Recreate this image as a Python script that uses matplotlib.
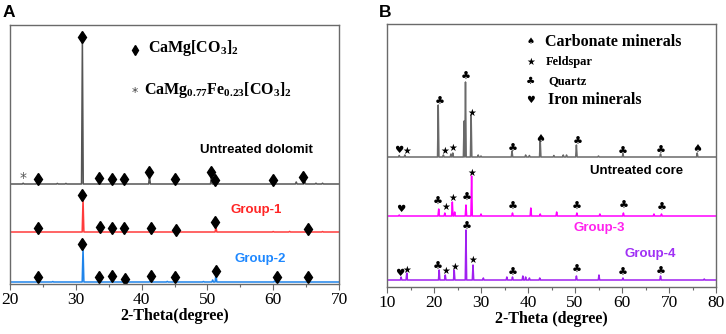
import matplotlib
matplotlib.use("Agg")
import matplotlib.pyplot as plt
from matplotlib.ticker import MultipleLocator

plt.rcParams['mathtext.fontset'] = 'custom'
plt.rcParams['mathtext.rm'] = 'Liberation Serif:bold'
plt.rcParams['mathtext.bf'] = 'Liberation Serif:bold'
plt.rcParams['mathtext.it'] = 'Liberation Serif:bold'
plt.rcParams['mathtext.default'] = 'bf'

# ---------------- Panel A data ----------------
a_untreated_pos = [22.0, 24.1, 27.2, 28.5, 31.0, 33.6, 35.4, 37.5, 41.2, 45.0, 50.6, 51.1, 59.9, 63.5, 64.8, 66.5, 67.5]
a_untreated_h   = [0.8, 1.0, 0.6, 0.6, 144, 1.5, 1.0, 1.0, 8, 1.0, 7, 3, 1.5, 2, 2.5, 0.8, 0.8]
a_g1_pos = [31.1, 33.8, 41.3, 45.3, 51.3, 60.0, 62.5, 65.4, 67.5]
a_g1_h   = [33, 0.6, 0.5, 0.5, 5, 0.5, 0.6, 0.8, 0.5]
a_g2_pos = [26.5, 31.1, 33.6, 35.6, 41.3, 43.9, 45.0, 49.4, 50.8, 51.3, 60.2, 65.4]
a_g2_h   = [0.5, 34, 0.7, 0.7, 1.0, 0.6, 0.7, 0.5, 2, 8, 1.0, 1.0]
a_offsets = [100, 52, 2]

a_untreated_mk_x = [24.2, 33.5, 35.5, 37.4, 41.2, 45.0, 50.5, 51.1, 60.0, 64.6, 31.0]
a_untreated_mk_y = [105, 106, 105, 105, 112, 105, 112, 104, 104, 107, 247]
a_g1_mk_x = [24.2, 31.0, 33.7, 35.5, 37.4, 41.4, 45.2, 51.2, 65.3]
a_g1_mk_y = [56, 89, 57, 56, 56, 56, 54, 62, 55]
a_g2_mk_x = [24.2, 31.0, 33.5, 35.5, 37.5, 41.4, 45.1, 51.3, 60.6, 65.3]
a_g2_mk_y = [7, 40, 7, 8, 5, 8, 7, 13, 7, 7]

# ---------------- Panel B data ----------------
b_core_pos = [12.6, 13.8, 20.9, 22.0, 23.6, 24.0, 26.4, 26.7, 27.9, 29.4, 30.0, 36.6, 39.5, 40.3, 42.6, 45.5, 47.5, 48.2, 50.3, 55.0, 60.2, 68.2, 76.0]
b_core_h   = [1.5, 2, 52, 2, 3, 4, 36, 75, 42, 2, 1, 6, 2, 1.5, 17, 1.5, 2, 2, 12, 1, 3, 3, 4]
b_g3_pos = [12.6, 21.0, 22.3, 23.9, 24.4, 26.8, 28.0, 30.0, 36.7, 40.6, 42.6, 46.1, 50.4, 55.3, 60.3, 66.8, 68.4]
b_g3_h   = [1, 7, 3, 14, 4, 11, 40, 2, 3, 8, 2, 4, 3, 2, 3, 2, 2]
b_g4_pos = [13.0, 14.2, 21.1, 22.4, 24.3, 26.8, 28.3, 30.5, 35.5, 36.7, 38.9, 39.5, 40.3, 42.5, 50.3, 55.1, 60.2, 68.2, 77.5]
b_g4_h   = [3, 7, 10, 5, 10, 50, 15, 2, 3, 3, 4, 3, 2, 2, 4, 5, 2, 4, 1]
b_offsets = [130, 71, 7]

b_core_mk_x = [12.5, 14.1, 21.2, 22.2, 24.0, 26.8, 28.1, 36.8, 42.7, 50.5, 60.2, 68.3, 76.0]
b_core_mk_y = [137, 136, 185, 136, 139, 210, 174, 138, 148, 145, 135, 136, 138]
b_core_mk_s = ['♥', '★', '♣', '★', '★', '♣', '★', '♣', '♠', '♣', '♣', '♣', '♠']
b_g3_mk_x = [13.0, 20.9, 22.5, 24.0, 27.0, 28.0, 36.8, 50.4, 60.4, 68.5]
b_g3_mk_y = [78, 85, 80, 89, 89, 114, 80, 80, 81, 79]
b_g3_mk_s = ['♥', '♣', '★', '★', '♣', '★', '♣', '♣', '♣', '♣']
b_g4_mk_x = [12.7, 14.3, 20.9, 22.6, 24.4, 27.0, 28.3, 36.8, 50.4, 60.2, 68.3]
b_g4_mk_y = [14, 17, 20, 16, 20, 60, 27, 14, 17, 14, 15]
b_g4_mk_s = ['♥', '★', '♣', '★', '★', '♣', '★', '♣', '♣', '♣', '♣']

b_legend_syms = ['♠', '★', '♣', '♥']
b_legend_txt = ['Carbonate minerals', 'Feldspar', 'Quartz', 'Iron minerals']


def pattern(pos, h, off, xlo, xhi, w):
    xs = [xlo]
    ys = [off]
    for p, v in sorted(zip(pos, h)):
        xs += [p - w, p, p + w]
        ys += [off, off + v, off]
    xs.append(xhi)
    ys.append(off)
    return xs, ys


fig = plt.figure(figsize=(7.26, 3.34), dpi=100)
W, H = 726, 334

spine_c = '#6a6a6a'
serif = 'Liberation Serif'
sans = 'Liberation Sans'


def style_ax(ax):
    for s in ax.spines.values():
        s.set_color(spine_c)
        s.set_linewidth(1.0)
    ax.set_yticks([])
    ax.xaxis.set_major_locator(MultipleLocator(10))
    ax.xaxis.set_minor_locator(MultipleLocator(5))
    ax.tick_params(axis='x', which='major', direction='out', length=4, width=0.8,
                   color=spine_c, labelsize=12.5, pad=2)
    ax.tick_params(axis='x', which='minor', direction='out', length=2.5, width=0.8, color=spine_c)
    for lab in ax.get_xticklabels():
        lab.set_fontfamily(serif)


# ---------------- Panel A ----------------
axA = fig.add_axes([10 / W, (H - 284) / H, 329 / W, 259 / H])
axA.set_xlim(20, 70)
axA.set_ylim(0, 259)
colsA = ['#555555', '#ff3b3b', '#1f84ea']
for (pos, h), off, c in zip([(a_untreated_pos, a_untreated_h), (a_g1_pos, a_g1_h), (a_g2_pos, a_g2_h)],
                            a_offsets, colsA):
    xs, ys = pattern(pos, h, off, 20, 70, 0.13)
    axA.plot(xs, ys, color=c, lw=1.1)
for mx, my in [(a_untreated_mk_x, a_untreated_mk_y), (a_g1_mk_x, a_g1_mk_y), (a_g2_mk_x, a_g2_mk_y)]:
    axA.plot(mx, my, linestyle='none', marker='d', ms=6.5, color='black')
axA.text(22.0, 106, '*', color='#555555', fontsize=10, ha='center', va='center', family='DejaVu Sans')
# legend A
axA.plot([39.0], [234], marker='d', ms=5.5, color='black', linestyle='none')
axA.text(40.9, 236, r'$CaMg[CO_3]_2$', fontsize=11.5, ha='left', va='center')
axA.text(39.0, 192, '*', color='#444444', fontsize=9, ha='center', va='center', family='DejaVu Sans')
axA.text(40.4, 194, r'$CaMg_{0.77}Fe_{0.23}[CO_3]_2$', fontsize=11.5, ha='left', va='center')
axA.text(57.5, 134, 'Untreated dolomit', fontsize=9.5, fontweight='bold', family=sans,
         ha='center', va='center', color='black')
axA.text(57.4, 74, 'Group-1', fontsize=9.5, fontweight='bold', family=sans,
         ha='center', va='center', color='#ff2525')
axA.text(58.0, 25, 'Group-2', fontsize=9.5, fontweight='bold', family=sans,
         ha='center', va='center', color='#1e88ff')
style_ax(axA)
axA.set_xlabel('2-Theta(degree)', fontsize=11.5, fontweight='bold', family=serif, labelpad=0)

# ---------------- Panel B ----------------
axB = fig.add_axes([387 / W, (H - 287) / H, 329 / W, 263 / H])
axB.set_xlim(10, 80)
axB.set_ylim(0, 263)
colsB = ['#6a6a6a', '#ff00ff', '#a020f0']
for (pos, h), off, c in zip([(b_core_pos, b_core_h), (b_g3_pos, b_g3_h), (b_g4_pos, b_g4_h)],
                            b_offsets, colsB):
    xs, ys = pattern(pos, h, off, 10, 80, 0.15)
    axB.plot(xs, ys, color=c, lw=1.1)
sym_fs = {'♥': 7.5, '★': 7.0, '♣': 8.0, '♠': 8.0}
for mx, my, ms in [(b_core_mk_x, b_core_mk_y, b_core_mk_s), (b_g3_mk_x, b_g3_mk_y, b_g3_mk_s),
                   (b_g4_mk_x, b_g4_mk_y, b_g4_mk_s)]:
    for x, y, s in zip(mx, my, ms):
        axB.text(x, y, s, fontsize=sym_fs[s], ha='center', va='center',
                 family='DejaVu Sans', color='black')
leg_y = [245, 225, 206, 187]
leg_fs = [11.5, 9, 9, 11.5]
leg_x = [43.6, 43.8, 44.3, 44.3]
leg_sym_fs = [6.5, 7, 7.5, 7]
for s, t, y, fs, tx, sfs in zip(b_legend_syms, b_legend_txt, leg_y, leg_fs, leg_x, leg_sym_fs):
    axB.text(40.6, y, s, fontsize=sfs, ha='center', va='center', family='DejaVu Sans', color='black')
    axB.text(tx, y, t, fontsize=fs, ha='left', va='center', family=serif, fontweight='bold')
axB.text(63.0, 116, 'Untreated core', fontsize=9.5, fontweight='bold', family=sans,
         ha='center', va='center', color='black')
axB.text(55.1, 59, 'Group-3', fontsize=9.5, fontweight='bold', family=sans,
         ha='center', va='center', color='#ff22ee')
axB.text(66.0, 33, 'Group-4', fontsize=9.5, fontweight='bold', family=sans,
         ha='center', va='center', color='#a030f5')
style_ax(axB)
axB.set_xlabel('2-Theta (degree)', fontsize=11.5, fontweight='bold', family=serif, labelpad=0)

fig.text(3 / W, 1 - 17 / H, 'A', fontsize=12.5, fontweight='bold', family=sans, va='baseline')
fig.text(379 / W, 1 - 17 / H, 'B', fontsize=12.5, fontweight='bold', family=sans, va='baseline')

fig.savefig('out.png', dpi=100)
